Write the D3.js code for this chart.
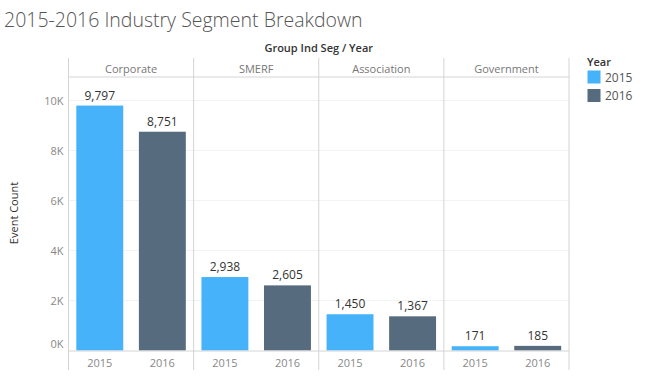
<!DOCTYPE html>
<html><head><meta charset="utf-8">
<script src="https://cdn.jsdelivr.net/npm/d3@7"></script>
<style>
html,body{margin:0;padding:0;background:#fff;}
svg{display:block;font-family:"Open Sans","Noto Sans",sans-serif;}
</style></head>
<body>
<svg id="chart" width="654" height="378"></svg>
<script>
const segments = ["Corporate", "SMERF", "Association", "Government"];
const years = ["2015", "2016"];
const values2015 = [9797, 2938, 1450, 171];
const values2016 = [8751, 2605, 1367, 185];
const yTicks = [0, 2000, 4000, 6000, 8000, 10000];
const colors = ["#45b2fa", "#566b7e"];

const svg = d3.select("#chart");
const L = 68.5, R = 569, T = 58, H = 77, B = 350.5, BOT = 370;

svg.append("text").attr("x", 4).attr("y", 27)
  .attr("font-size", 19.5).attr("font-weight", 300).attr("fill", "#555")
  .text("2015-2016 Industry Segment Breakdown");

const x0 = d3.scaleBand().domain(segments).range([L, R]);
const x1 = d3.scaleBand().domain(years).range([0, x0.bandwidth()]).paddingInner(0.25).paddingOuter(0.125);
const y = d3.scaleLinear().domain([0, 10000]).range([B, 100.5]);

// gridlines
svg.append("g").selectAll("line").data(yTicks.filter(d => d > 0)).join("line")
  .attr("x1", L).attr("x2", R).attr("y1", d => y(d)).attr("y2", d => y(d))
  .attr("stroke", "#e6e6e6").attr("stroke-dasharray", "1,1");

// y axis
const yAxis = d3.axisLeft(y).tickValues(yTicks).tickSize(0).tickPadding(5)
  .tickFormat(d => (d / 1000) + "K");
const ya = svg.append("g").attr("transform", `translate(${L},0)`).call(yAxis);
ya.select(".domain").remove();
ya.selectAll("text").attr("font-size", 11).attr("fill", "#888")
  .attr("font-family", "Open Sans, sans-serif")
  .attr("dy", d => d === 0 ? "-0.3em" : "0.32em");

svg.append("text").attr("transform", "translate(18,213) rotate(-90)")
  .attr("text-anchor", "middle").attr("font-size", 11).attr("fill", "#333")
  .text("Event Count");

// header
svg.append("text").attr("x", (L + R) / 2).attr("y", 52).attr("text-anchor", "middle")
  .attr("font-size", 11).attr("font-weight", 600).attr("fill", "#333")
  .text("Group Ind Seg / Year");
svg.append("g").selectAll("text").data(segments).join("text")
  .attr("x", d => x0(d) + x0.bandwidth() / 2).attr("y", 73).attr("text-anchor", "middle")
  .attr("font-size", 11).attr("fill", "#777").text(d => d);

// bars
const rows = [];
segments.forEach((s, i) => {
  rows.push({seg: s, year: years[0], v: values2015[i], c: colors[0]});
  rows.push({seg: s, year: years[1], v: values2016[i], c: colors[1]});
});
svg.append("g").selectAll("rect").data(rows).join("rect")
  .attr("x", d => x0(d.seg) + x1(d.year)).attr("width", x1.bandwidth())
  .attr("y", d => y(d.v)).attr("height", d => B - y(d.v)).attr("fill", d => d.c);

svg.append("g").selectAll("text").data(rows).join("text")
  .attr("x", d => x0(d.seg) + x1(d.year) + x1.bandwidth() / 2)
  .attr("y", d => y(d.v) - 6).attr("text-anchor", "middle")
  .attr("font-size", 12).attr("fill", "#333").text(d => d3.format(",")(d.v));

// x labels
svg.append("g").selectAll("text").data(rows).join("text")
  .attr("x", d => x0(d.seg) + x1(d.year) + x1.bandwidth() / 2)
  .attr("y", 367).attr("text-anchor", "middle")
  .attr("font-size", 11).attr("fill", "#888").text(d => d.year);

// frame lines
const g = svg.append("g").attr("stroke", "#d4d4d4").attr("stroke-width", 1);
segments.concat(["end"]).forEach((s, i) => {
  const xx = i < segments.length ? x0(s) : R;
  g.append("line").attr("x1", xx).attr("x2", xx).attr("y1", T).attr("y2", BOT);
});
g.append("line").attr("x1", L).attr("x2", R).attr("y1", H).attr("y2", H);
g.append("line").attr("x1", L).attr("x2", R).attr("y1", B + 0.5).attr("y2", B + 0.5);

// legend
const lg = svg.append("g");
lg.append("text").attr("x", 587).attr("y", 66).attr("font-size", 11).attr("font-weight", 600)
  .attr("fill", "#333").text("Year");
years.forEach((yr, i) => {
  lg.append("rect").attr("x", 587.5).attr("y", 70.5 + i * 18.5).attr("width", 13).attr("height", 13)
    .attr("fill", colors[i]);
  lg.append("text").attr("x", 605).attr("y", 81.5 + i * 18.5).attr("font-size", 12)
    .attr("fill", "#555").text(yr);
});
</script>
</body></html>
